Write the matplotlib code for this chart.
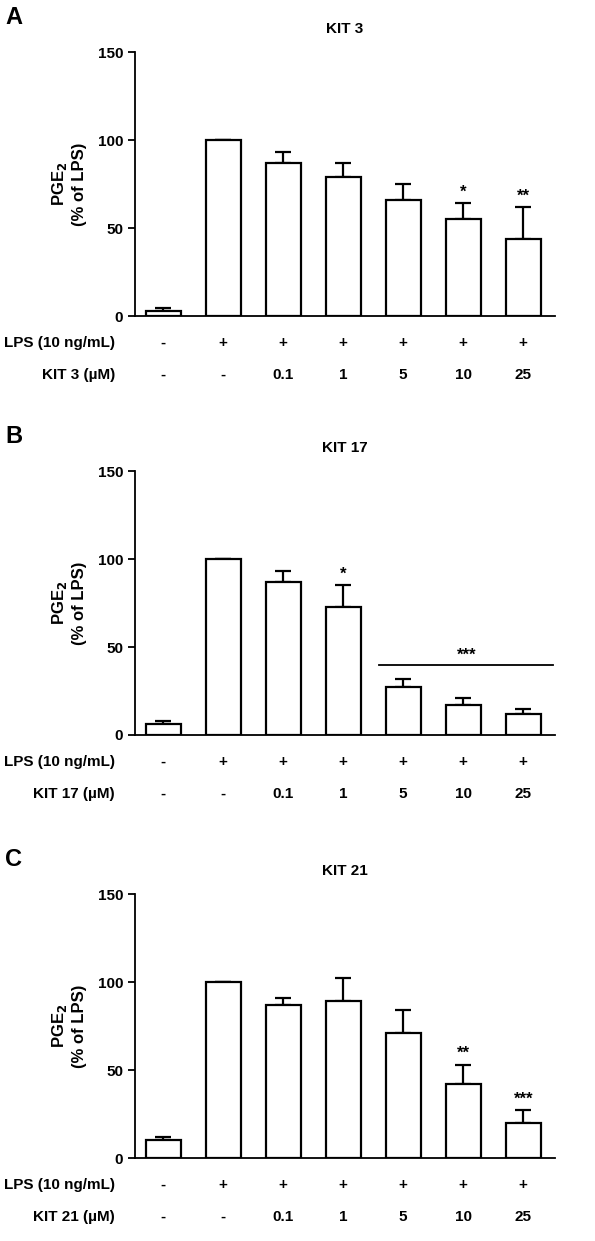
import matplotlib.pyplot as plt

plt.rcParams['font.family'] = ['Liberation Sans', 'DejaVu Sans']
plt.rcParams['font.weight'] = 'bold'

W, H = 595, 1241

lps_signs = ['-', '+', '+', '+', '+', '+', '+']
dose_labels = ['-', '-', '0.1', '1', '5', '10', '25']

titles = ['KIT 3', 'KIT 17', 'KIT 21']
letters = ['A', 'B', 'C']
means = [
    [3, 100, 87, 79, 66, 55, 44],
    [6, 100, 87, 73, 27, 17, 12],
    [10, 100, 87, 89, 71, 42, 20],
]
errs = [
    [1.5, 0, 6, 8, 9, 9, 18],
    [2, 0, 6, 12, 5, 4, 3],
    [2, 0, 4, 13, 13, 11, 7],
]
stars = [
    ['', '', '', '', '', '*', '**'],
    ['', '', '', '*', '', '', ''],
    ['', '', '', '', '', '**', '***'],
]
# y pixel of value 150 and value 0 for each panel
tops = [52, 471, 894]
bottoms = [316, 735, 1158]

fig = plt.figure(figsize=(W / 100, H / 100), dpi=100)

for p in range(3):
    top, bot = tops[p], bottoms[p]
    ax = fig.add_axes([135 / W, 1 - bot / H, 420 / W, (bot - top) / H])
    x = range(len(means[p]))
    ax.bar(x, means[p], width=0.58, color='white', edgecolor='black', linewidth=1.6,
           zorder=2)
    ax.errorbar(x, means[p], yerr=[[0] * 7, errs[p]], fmt='none', ecolor='black',
                elinewidth=1.6, capsize=6, capthick=1.6, zorder=1)
    for i, s in enumerate(stars[p]):
        if s:
            ax.text(i, means[p][i] + errs[p][i] + 2, s, ha='center', va='bottom',
                    fontsize=12)
    if p == 1:
        ax.plot([3.6, 6.5], [40, 40], color='black', lw=1.3)
        ax.text(5.05, 41, '***', ha='center', va='bottom', fontsize=12)
    ax.set_xlim(-0.47, 6.53)
    ax.set_ylim(0, 150)
    ax.set_yticks([0, 50, 100, 150])
    ax.set_xticks([])
    for s in ['top', 'right', 'bottom']:
        ax.spines[s].set_visible(False) if s != 'bottom' else None
    ax.spines['left'].set_linewidth(1.3)
    ax.spines['bottom'].set_linewidth(1.3)
    ax.tick_params(axis='y', labelsize=11, width=1.3, length=5)
    for lab in ax.get_yticklabels():
        lab.set_fontweight('bold')
    ax.set_title(titles[p], fontsize=11, fontweight='bold', pad=14)
    ax.set_ylabel('PGE$_\\mathbf{2}$\n(% of LPS)', fontsize=12, fontweight='bold',
                  labelpad=8)
    fig.text(5 / W, 1 - (top - 35) / H, letters[p], fontsize=17, fontweight='bold',
             va='center')
    # treatment rows
    for row, (lab, vals) in enumerate([('LPS (10 ng/mL)', lps_signs),
                                       (titles[p] + ' (µM)', dose_labels)]):
        yp = bot + 27 + row * 32
        fig.text(115 / W, 1 - yp / H, lab, ha='right', va='center', fontsize=11)
        for i, v in enumerate(vals):
            xd = ax.transData.transform((i, 0))[0]
            fig.text(xd / fig.bbox.width, 1 - yp / H, v, ha='center', va='center',
                     fontsize=11)

fig.savefig('out.png', dpi=100)
